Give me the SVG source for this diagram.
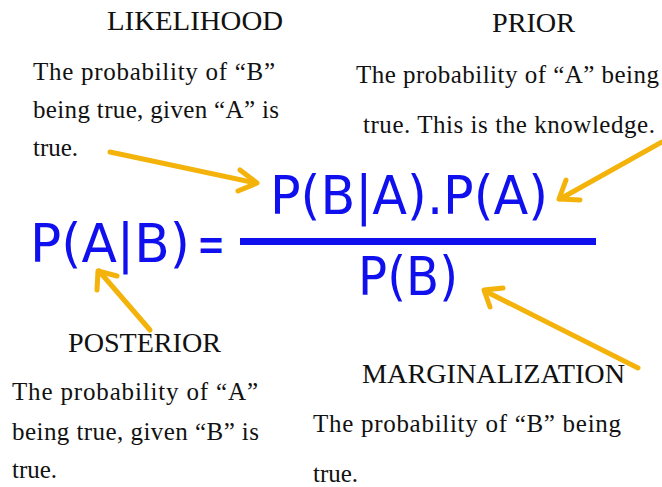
<svg xmlns="http://www.w3.org/2000/svg" width="662" height="487" viewBox="0 0 662 487">
<defs>
<style>
.t{font-family:"Liberation Serif","Times New Roman",serif;font-size:25px;fill:#111}
.h{font-family:"Liberation Serif","Times New Roman",serif;font-size:28px;fill:#111}
.f{font-family:"DejaVu Sans","Open Sans",sans-serif;font-size:54px;fill:#1010ee}
.a{stroke:#f4b30a;stroke-width:5;fill:none;stroke-linecap:round;stroke-linejoin:round}
</style>
</defs>
<rect width="662" height="487" fill="#fff"/>
<g id="likelihood">
<text class="h" x="107" y="30" textLength="176" lengthAdjust="spacingAndGlyphs">LIKELIHOOD</text>
<text class="t" x="33" y="80" textLength="242">The probability of “B”</text>
<text class="t" x="33" y="118" textLength="246">being true, given “A” is</text>
<text class="t" x="33" y="156">true.</text>
</g>
<g id="prior">
<text class="h" x="492" y="32" textLength="83" lengthAdjust="spacingAndGlyphs">PRIOR</text>
<text class="t" x="356" y="83" textLength="303">The probability of “A” being</text>
<text class="t" x="363" y="133" textLength="292">true. This is the knowledge.</text>
</g>
<g id="formula">
<text class="f" x="30" y="262" textLength="160" lengthAdjust="spacingAndGlyphs">P(A|B)</text>
<text class="f" x="197" y="262" textLength="28" lengthAdjust="spacingAndGlyphs">=</text>
<rect x="240" y="238" width="356" height="7" fill="#1010ee"/>
<text class="f" x="270" y="214" textLength="278" lengthAdjust="spacingAndGlyphs">P(B|A).P(A)</text>
<text class="f" x="358" y="295" textLength="100" lengthAdjust="spacingAndGlyphs">P(B)</text>
</g>
<g id="posterior">
<text class="h" x="68" y="352" textLength="153" lengthAdjust="spacingAndGlyphs">POSTERIOR</text>
<text class="t" x="12" y="400" textLength="246">The probability of “A”</text>
<text class="t" x="12" y="440" textLength="247">being true, given “B” is</text>
<text class="t" x="12" y="478">true.</text>
</g>
<g id="marginalization">
<text class="h" x="362" y="383" textLength="263" lengthAdjust="spacingAndGlyphs">MARGINALIZATION</text>
<text class="t" x="313" y="432" textLength="308">The probability of “B” being</text>
<text class="t" x="313" y="482">true.</text>
</g>
<g id="connectors">
<path class="a" d="M110,152 L256,183"/>
<path class="a" d="M240,170 L257,183 L238,191"/>
<path class="a" d="M662,142 L560,199"/>
<path class="a" d="M566,180 L559,199 L580,200"/>
<path class="a" d="M150,330 L99,271"/>
<path class="a" d="M97,290 L98,271 L117,276"/>
<path class="a" d="M638,368 L485,291"/>
<path class="a" d="M490,307 L484,290 L503,288"/>
</g>
</svg>
